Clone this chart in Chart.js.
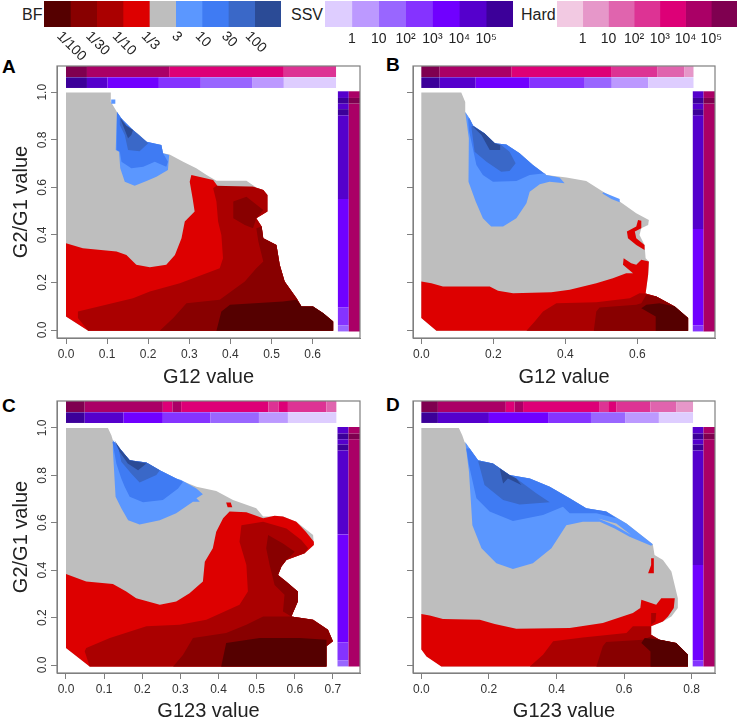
<!DOCTYPE html>
<html>
<head>
<meta charset="utf-8">
<style>
html, body { margin: 0; background: #fff; width: 747px; height: 720px; overflow: hidden; font-family: "Liberation Sans", Arial, sans-serif; }
canvas { position: absolute; }
.txt { position: absolute; color: #222; font-size: 16px; line-height: 18px; }
.tag { position: absolute; color: #000; font-size: 19px; font-weight: bold; line-height: 20px; }
</style>
</head>
<body>
<div class="txt" style="left:22px;top:6px">BF</div>
<div class="txt" style="left:291px;top:6px">SSV</div>
<div class="txt" style="left:521px;top:6px">Hard</div>
<div class="tag" style="left:2px;top:57px">A</div>
<div class="tag" style="left:386px;top:55px">B</div>
<div class="tag" style="left:2px;top:396px">C</div>
<div class="tag" style="left:386px;top:395px">D</div>
<canvas id="panelA" width="370" height="337" style="left:0;top:52px"></canvas>
<canvas id="panelB" width="377" height="337" style="left:370px;top:52px"></canvas>
<canvas id="panelC" width="370" height="338" style="left:0;top:385px"></canvas>
<canvas id="panelD" width="377" height="338" style="left:370px;top:385px"></canvas>
<canvas id="legendBF" width="237" height="70" style="left:44px;top:0"></canvas>
<canvas id="legendSSV" width="188" height="50" style="left:325px;top:0"></canvas>
<canvas id="legendHard" width="180" height="50" style="left:557px;top:0"></canvas>

<script src="https://cdn.jsdelivr.net/npm/chart.js"></script>
<script>
  // legend classes
  const bfColors = ["#550000", "#880000", "#aa0000", "#dd0000", "#bebebe", "#5b97ff", "#3f7bf3", "#3a68c8", "#2b4b96"];
  const bfLabels = ["1/100", "1/30", "1/10", "1/3", "3", "10", "30", "100"];
  const ssvColors = ["#decdff", "#bc99ff", "#9966ff", "#8533ff", "#7000ff", "#5500cc", "#3c0099"];
  const ssvLabels = ["1", "10", "10²", "10³", "10⁴", "10⁵"];
  const hardColors = ["#f2c9e2", "#e697c9", "#e064ae", "#dd3394", "#dd0077", "#aa0066", "#7f0050"];
  const hardLabels = ["1", "10", "10²", "10³", "10⁴", "10⁵"];
  const bf = { c100: 0, c30: 1, c10: 2, c3: 3, n3: 4, p10: 5, p30: 6, p100: 7, pMax: 8 };

  const yTicks = [0, 0.2, 0.4, 0.6, 0.8, 1];

  // panel A regions, [G12, G2/G1]
  const aLow = [[.573,.099],[.601,.099],[.626,.071],[.650,.036],[.650,-.003]];
  const aSide = [[.476,.435],[.480,.386],[.512,.358],[.520,.274],[.532,.204],[.561,.134], ...aLow];
  const aOutline = [[0,.999],[.109,.999],[.109,.96],[.124,.917],[.135,.890],[.147,.859],[.163,.841],[.179,.820],[.196,.792],[.220,.780],[.232,.778],[.236,.743],[.252,.738],[.285,.708],[.317,.680],[.342,.652],[.366,.628],[.439,.628],[.463,.599],[.480,.589],[.490,.568],[.490,.498],[.463,.470], ...aSide,[.054,-.003],[0,.057]];
  const aRed = [[0,.365],[.041,.344],[.123,.330],[.147,.316],[.171,.274],[.204,.264],[.244,.274],[.265,.316],[.281,.386],[.289,.456],[.313,.498],[.308,.554],[.301,.624],[.305,.652],[.358,.631],[.370,.603],[.455,.603],[.480,.589],[.490,.568],[.490,.498],[.463,.470], ...aSide,[.054,-.003],[0,.057]];
  const a10th = [[.029,.078],[.163,.134],[.204,.162],[.277,.197],[.374,.260],[.382,.302],[.378,.400],[.370,.456],[.366,.540],[.358,.596],[.366,.607],[.455,.603],[.480,.589],[.490,.568],[.490,.498],[.463,.470], ...aSide,[.054,-.003],[.029,.050]];
  const a30th = [[.228,-.003],[.261,.050],[.293,.113],[.374,.127],[.435,.204],[.463,.260],[.480,.288],[.468,.372],[.463,.428], ...aSide];
  const a30thBlob = [[.407,.540],[.439,.561],[.480,.505],[.463,.470],[.455,.428],[.435,.442],[.407,.470]];
  const a100th = [[.366,-.003],[.378,.078],[.399,.106],[.528,.120],[.561,.127], ...aLow];
  const aBlue10 = [[.124,.917],[.121,.757],[.129,.750],[.132,.680],[.143,.624],[.167,.607],[.196,.627],[.220,.645],[.248,.673],[.251,.736],[.236,.743],[.232,.778],[.196,.792],[.163,.841],[.135,.890]];
  const aBlue10Dot = [[.110,.970],[.120,.970],[.120,.952],[.110,.952]];
  const aBlue30 = [[.124,.917],[.123,.757],[.131,.750],[.135,.708],[.159,.680],[.188,.687],[.216,.708],[.244,.687],[.248,.708],[.236,.743],[.232,.778],[.196,.792],[.163,.841],[.135,.890]];
  const aBlue100 = [[.131,.890],[.131,.862],[.143,.820],[.151,.757],[.179,.752],[.200,.785],[.196,.792],[.163,.841],[.147,.859],[.135,.890]];
  const aBlueMax = [[.132,.890],[.140,.855],[.151,.806],[.159,.820],[.163,.841],[.147,.859]];

  // panel B regions
  const bLow = [[.653,.141],[.704,.099],[.741,.050],[.741,-.003]];
  const bOutline = [[0,.999],[.111,.999],[.122,.959],[.122,.917],[.134,.890],[.144,.859],[.176,.827],[.204,.785],[.236,.780],[.273,.743],[.310,.694],[.347,.652],[.403,.641],[.458,.627],[.505,.582],[.551,.540],[.597,.491],[.632,.463],[.630,.442],[.611,.428],[.606,.400],[.620,.358],[.623,.302],[.632,.288],[.630,.232],[.623,.154], ...bLow,[.042,-.003],[0,.050]];
  const bRed = [[0,.204],[.028,.197],[.060,.183],[.190,.183],[.213,.165],[.255,.155],[.361,.159],[.412,.169],[.486,.197],[.532,.218],[.569,.239],[.588,.239],[.560,.274],[.562,.302],[.583,.281],[.597,.274],[.611,.295],[.632,.288],[.630,.232],[.623,.154], ...bLow,[.042,-.003],[0,.050]];
  const bRedBlob = [[.602,.463],[.611,.460],[.611,.428],[.593,.414],[.597,.386],[.620,.358],[.620,.337],[.597,.358],[.574,.386],[.571,.414],[.597,.435]];
  const b10th = [[.292,-.003],[.315,.036],[.338,.078],[.375,.113],[.486,.117],[.579,.134],[.606,.155],[.623,.154], ...bLow];
  const b30th = [[.479,-.003],[.486,.078],[.495,.095],[.597,.106],[.611,.113],[.625,.148], ...bLow];
  const b100th = [[.651,-.003],[.651,.057],[.611,.092],[.625,.106],[.662,.113],[.704,.099],[.741,.050],[.741,-.003]];
  const bEdge = [[.347,.652],[.310,.694],[.273,.743],[.236,.780],[.204,.785],[.176,.827],[.144,.859],[.134,.890]];
  const bBlue10 = [[.122,.917],[.132,.806],[.131,.624],[.151,.540],[.171,.470],[.194,.435],[.227,.435],[.264,.470],[.292,.533],[.301,.582],[.329,.613],[.356,.624],[.398,.617],[.384,.641], ...bEdge];
  const bBlue10Strip = [[.505,.579],[.551,.551],[.551,.537],[.528,.551],[.503,.574]];
  const bBlue30 = [[.130,.890],[.132,.841],[.153,.694],[.171,.652],[.199,.624],[.264,.627],[.301,.652],[.343,.659], ...bEdge];
  const bBlue100 = [[.139,.855],[.148,.750],[.181,.708],[.222,.666],[.245,.669],[.262,.701],[.245,.750],[.222,.778],[.204,.785],[.176,.827],[.144,.859]];
  const bBlueMax = [[.141,.859],[.167,.820],[.190,.757],[.219,.757],[.219,.778],[.204,.785],[.176,.827]];

  // panel C regions, [G123, G2/G1]
  const cLow = [[.608,.310],[.608,.268],[.591,.205],[.648,.191],[.687,.149],[.700,.100],[.683,.079],[.683,-.006]];
  const cTail = [[.626,.471],[.578,.443],[.565,.415],[.556,.380], ...cLow];
  const cOutline = [[0,1],[.110,1],[.119,.969],[.123,.948],[.145,.906],[.167,.864],[.211,.854],[.246,.822],[.289,.787],[.342,.752],[.394,.734],[.438,.696],[.499,.661],[.517,.626],[.569,.626],[.604,.604],[.648,.548],[.650,.506], ...cTail,[.062,-.006],[0,.072]];
  const cRed = [[0,.384],[.053,.352],[.123,.342],[.158,.310],[.184,.282],[.246,.254],[.289,.268],[.324,.303],[.359,.352],[.364,.436],[.385,.492],[.394,.562],[.412,.619],[.429,.647],[.473,.644],[.517,.619],[.547,.630],[.569,.626],[.604,.604],[.629,.562],[.650,.520],[.650,.506], ...cTail,[.062,-.006],[0,.072]];
  const cRedDot = [[.420,.685],[.432,.685],[.436,.665],[.424,.665]];
  const c10th = [[.053,.072],[.115,.114],[.211,.163],[.298,.170],[.368,.191],[.455,.254],[.477,.310],[.473,.422],[.455,.520],[.460,.590],[.517,.604],[.578,.576],[.617,.527],[.635,.492], ...cTail,[.062,-.006],[.049,.058]];
  const c30th = [[.281,-.006],[.307,.043],[.333,.114],[.420,.135],[.473,.170],[.517,.205],[.591,.205],[.648,.191],[.687,.149],[.700,.100],[.683,.079],[.683,-.006]];
  const c30thBlob = [[.530,.548],[.569,.513],[.600,.478],[.578,.443],[.565,.415],[.556,.380],[.578,.352],[.608,.310],[.608,.268],[.591,.205],[.569,.226],[.573,.296],[.547,.338],[.534,.422],[.525,.492]];
  const c100th = [[.407,-.006],[.420,.093],[.508,.114],[.613,.114],[.683,.107],[.683,-.006]];
  const cEdge = [[.289,.787],[.246,.822],[.211,.854],[.167,.864],[.145,.906]];
  const cBlue10 = [[.123,.906],[.130,.710],[.145,.661],[.163,.611],[.193,.593],[.246,.611],[.289,.640],[.333,.689],[.351,.689],[.342,.703],[.359,.720],[.342,.745],[.302,.780], ...cEdge,[.123,.948]];
  const cBlue30 = [[.122,.941],[.132,.850],[.145,.787],[.154,.752],[.167,.710],[.202,.686],[.254,.696],[.294,.745],[.307,.773], ...cEdge,[.127,.941]];
  const cBlue100 = [[.139,.906],[.145,.857],[.171,.808],[.193,.770],[.237,.801],[.246,.822],[.211,.854],[.167,.864],[.145,.906]];
  const cBlueMax = [[.127,.948],[.141,.899],[.162,.850],[.189,.822],[.211,.850],[.167,.864],[.145,.906]];

  // panel D regions
  const dLow = [[.680,.163],[.680,.128],[.705,.107],[.754,.093],[.789,.043],[.789,-.006]];
  const dOutline = [[0,1],[.111,1],[.121,.969],[.128,.941],[.143,.913],[.168,.864],[.212,.850],[.261,.801],[.321,.787],[.380,.752],[.439,.703],[.488,.661],[.547,.647],[.607,.597],[.685,.509],[.690,.464],[.715,.443],[.740,.394],[.759,.282],[.759,.240],[.740,.205],[.715,.184], ...dLow,[.059,-.006],[0,.065]];
  const dRed = [[0,.215],[.025,.209],[.064,.194],[.173,.191],[.217,.173],[.281,.153],[.439,.156],[.537,.177],[.626,.219],[.648,.240],[.651,.275],[.695,.254],[.710,.282],[.750,.282],[.747,.240],[.730,.205],[.715,.184], ...dLow,[.059,-.006],[.015,.036],[0,.065]];
  const dRedBlob = [[.680,.450],[.688,.450],[.688,.387],[.671,.387],[.680,.422]];
  const d10th = [[.321,-.006],[.360,.043],[.390,.100],[.478,.116],[.607,.135],[.626,.163], ...dLow];
  const d10thSpot = [[.680,.219],[.695,.219],[.693,.184],[.680,.170]];
  const d30th = [[.518,-.006],[.537,.079],[.547,.097],[.656,.107],[.680,.121],[.705,.107],[.754,.093],[.789,.043],[.789,-.006]];
  const d100th = [[.678,-.006],[.678,.057],[.651,.093],[.661,.114],[.705,.107],[.754,.093],[.789,.043],[.789,-.006]];
  const dEdge = [[.547,.647],[.488,.661],[.439,.703],[.380,.752],[.321,.787],[.261,.801],[.212,.850],[.168,.864],[.143,.913]];
  const dBlue10 = [[.130,.941],[.141,.815],[.151,.590],[.178,.492],[.222,.429],[.271,.405],[.330,.429],[.385,.492],[.429,.590],[.478,.604],[.528,.604],[.572,.576],[.616,.541],[.680,.503],[.685,.509],[.607,.597], ...dEdge];
  const dSliver = [[.523,.618],[.577,.597],[.621,.548],[.572,.590]];
  const dBlue30 = [[.133,.913],[.141,.843],[.163,.703],[.202,.647],[.271,.607],[.360,.633],[.419,.668],[.439,.640],[.518,.640],[.577,.619], ...dEdge];
  const dBlue100 = [[.168,.861],[.187,.759],[.242,.696],[.291,.677],[.380,.686],[.340,.724],[.281,.787],[.261,.801],[.212,.850]];
  const dBlueMax = [[.232,.829],[.242,.766],[.256,.787],[.296,.759],[.281,.787],[.261,.801]];

  // marginal strips: breaks along the axis and the class of each stretch
  const aTopHardBreaks = [0, .051, .251, .530, .657];
  const aTopHardClass = [6, 5, 4, 3];
  const aTopSsvBreaks = [0, .051, .101, .226, .328, .454, .530, .657];
  const aTopSsvClass = [6, 5, 4, 3, 2, 1, 0];
  const aSideSsvBreaks = [1.004, .976, .952, .929, .903, .551, .095, .020, -.006];
  const aSideSsvClass = [5, 6, 5, 6, 5, 4, 3, 2];
  const bTopHardBreaks = [0, .051, .251, .529, .655, .731, .756];
  const bTopHardClass = [6, 5, 4, 3, 2, 1];
  const bTopSsvBreaks = [0, .051, .151, .301, .454, .529, .630, .756];
  const bTopSsvClass = [6, 5, 4, 3, 2, 1, 0];
  const bSideSsvBreaks = [1.004, .976, .952, .929, .903, .425, .020, -.006];
  const bSideSsvClass = [5, 6, 5, 6, 5, 4, 3];
  const cTopHardBreaks = [0, .049, .254, .279, .302, .531, .558, .582, .683, .709];
  const cTopHardClass = [6, 5, 4, 5, 4, 3, 4, 3, 2];
  const cTopSsvBreaks = [0, .049, .151, .254, .379, .506, .582, .709];
  const cTopSsvClass = [6, 5, 4, 3, 2, 1, 0];
  const cSideSsvBreaks = [1.004, .976, .952, .930, .905, .551, .095, .020, -.006];
  const cSideSsvClass = [5, 6, 5, 6, 5, 4, 3, 2];
  const dTopHardBreaks = [0, .049, .250, .276, .301, .528, .553, .578, .678, .754, .804];
  const dTopHardClass = [6, 5, 4, 5, 4, 3, 4, 3, 2, 1];
  const dTopSsvBreaks = [0, .049, .200, .377, .502, .603, .703, .804];
  const dTopSsvClass = [6, 5, 4, 3, 2, 1, 0];
  const dSideSsvBreaks = [1.004, .976, .952, .930, .905, .422, .020, -.006];
  const dSideSsvClass = [5, 6, 5, 6, 5, 4, 3];
  const sideHardBreaks = [1.004, .976, .952, -.006];
  const sideHardClass = [5, 6, 5];

  const labelFont = '"Liberation Sans", Arial, sans-serif';
  const greyLine = "#7f7f7f";

  function polygon(points, color) {
    return {
      data: points, showLine: true, fill: "shape", tension: 0,
      backgroundColor: color, borderWidth: 0, borderColor: color,
      pointRadius: 0, pointHoverRadius: 0
    };
  }

  function box(x0, x1, y0, y1, color) {
    return polygon([[x0, y0], [x1, y0], [x1, y1], [x0, y1]], color);
  }

  const frame = {
    id: "frame",
    afterDraw(chart) {
      const a = chart.chartArea, ctx = chart.ctx;
      ctx.save();
      ctx.strokeStyle = greyLine;
      ctx.lineWidth = 1.2;
      ctx.strokeRect(a.left, a.top, a.right - a.left, a.bottom - a.top);
      ctx.restore();
    }
  };

  function drawPanel(id, p) {
    const sets = p.regions.map(([cls, pts]) => polygon(pts, bfColors[cls]));
    p.topHard.classes.forEach((c, i) => sets.push(box(p.topHard.breaks[i], p.topHard.breaks[i + 1], p.hardBand[0], p.hardBand[1], hardColors[c])));
    p.topSsv.classes.forEach((c, i) => sets.push(box(p.topSsv.breaks[i], p.topSsv.breaks[i + 1], p.ssvBand[0], p.ssvBand[1], ssvColors[c])));
    p.sideSsv.classes.forEach((c, i) => sets.push(box(p.sideX[0], p.sideX[1], p.sideSsv.breaks[i + 1], p.sideSsv.breaks[i], ssvColors[c])));
    sideHardClass.forEach((c, i) => sets.push(box(p.sideX[1], p.sideX[2], sideHardBreaks[i + 1], sideHardBreaks[i], hardColors[c])));
    sets.forEach((s, i) => { s.order = -i; });

    new Chart(document.getElementById(id), {
      type: "scatter",
      data: { datasets: sets },
      plugins: [frame],
      options: {
        responsive: false,
        animation: false,
        layout: { padding: p.padding },
        plugins: { legend: { display: false }, tooltip: { enabled: false } },
        scales: {
          x: {
            type: "linear", min: p.xRange[0], max: p.xRange[1],
            afterBuildTicks: s => { s.ticks = p.xTicks.map(v => ({ value: v })); },
            afterFit: s => { s.height = p.xAxisHeight; },
            grid: { drawOnChartArea: false, tickLength: 6, tickColor: greyLine, tickWidth: 1 },
            border: { color: greyLine },
            ticks: {
              autoSkip: false, maxRotation: 0, padding: 3, color: "#333",
              font: { family: labelFont, size: 12 },
              callback: v => v.toFixed(1)
            },
            title: { display: true, text: p.xTitle, color: "#222", padding: 0, font: { family: labelFont, size: 20 } }
          },
          y: {
            type: "linear", min: p.yRange[0], max: p.yRange[1],
            afterBuildTicks: s => { s.ticks = yTicks.map(v => ({ value: v })); },
            afterFit: s => { s.width = p.yAxisWidth; },
            grid: { drawOnChartArea: false, tickLength: 6, tickColor: greyLine, tickWidth: 1 },
            border: { color: greyLine },
            ticks: {
              autoSkip: false, minRotation: 90, maxRotation: 90, crossAlign: "center", padding: 0, color: "#333",
              font: { family: labelFont, size: 12 },
              callback: v => p.yTitle ? v.toFixed(1) : ""
            },
            title: { display: !!p.yTitle, text: p.yTitle, color: "#222", padding: { top: 9, bottom: 0 }, font: { family: labelFont, size: 20 } }
          }
        }
      }
    });
  }

  drawPanel("panelA", {
    regions: [[bf.n3, aOutline], [bf.c3, aRed], [bf.c10, a10th], [bf.c30, a30th], [bf.c30, a30thBlob], [bf.c100, a100th],
      [bf.p10, aBlue10], [bf.p10, aBlue10Dot], [bf.p30, aBlue30], [bf.p100, aBlue100], [bf.pMax, aBlueMax]],
    topHard: { breaks: aTopHardBreaks, classes: aTopHardClass },
    topSsv: { breaks: aTopSsvBreaks, classes: aTopSsvClass },
    sideSsv: { breaks: aSideSsvBreaks, classes: aSideSsvClass },
    hardBand: [1.064, 1.11], ssvBand: [1.018, 1.063], sideX: [.6615, .688, .72],
    xRange: [-.0219, .7153], yRange: [-.0336, 1.1104],
    xTicks: [0, .1, .2, .3, .4, .5, .6], xTitle: "G12 value", yTitle: "G2/G1 value",
    padding: { top: 14, right: 10 }, yAxisWidth: 57, xAxisHeight: 51
  });

  drawPanel("panelB", {
    regions: [[bf.n3, bOutline], [bf.c3, bRed], [bf.c3, bRedBlob], [bf.c10, b10th], [bf.c30, b30th], [bf.c100, b100th],
      [bf.p10, bBlue10], [bf.p10, bBlue10Strip], [bf.p30, bBlue30], [bf.p100, bBlue100], [bf.pMax, bBlueMax]],
    topHard: { breaks: bTopHardBreaks, classes: bTopHardClass },
    topSsv: { breaks: bTopSsvBreaks, classes: bTopSsvClass },
    sideSsv: { breaks: bSideSsvBreaks, classes: bSideSsvClass },
    hardBand: [1.064, 1.11], ssvBand: [1.018, 1.063], sideX: [.754, .784, .82],
    xRange: [-.0231, .8157], yRange: [-.0336, 1.1104],
    xTicks: [0, .2, .4, .6], xTitle: "G12 value", yTitle: "",
    padding: { top: 14, right: 32 }, yAxisWidth: 43, xAxisHeight: 51
  });

  drawPanel("panelC", {
    regions: [[bf.n3, cOutline], [bf.c3, cRed], [bf.c3, cRedDot], [bf.c10, c10th], [bf.c30, c30th], [bf.c30, c30thBlob], [bf.c100, c100th],
      [bf.p10, cBlue10], [bf.p30, cBlue30], [bf.p100, cBlue100], [bf.pMax, cBlueMax]],
    topHard: { breaks: cTopHardBreaks, classes: cTopHardClass },
    topSsv: { breaks: cTopSsvBreaks, classes: cTopSsvClass },
    sideSsv: { breaks: cSideSsvBreaks, classes: cSideSsvClass },
    hardBand: [1.067, 1.114], ssvBand: [1.021, 1.066], sideX: [.712, .741, .775],
    xRange: [-.0236, .771], yRange: [-.0337, 1.1136],
    xTicks: [0, .1, .2, .3, .4, .5, .6, .7], xTitle: "G123 value", yTitle: "G2/G1 value",
    padding: { top: 16, right: 10 }, yAxisWidth: 57, xAxisHeight: 50
  });

  drawPanel("panelD", {
    regions: [[bf.n3, dOutline], [bf.c3, dRed], [bf.c3, dRedBlob], [bf.c10, d10th], [bf.c10, d10thSpot], [bf.c30, d30th], [bf.c100, d100th],
      [bf.p10, dBlue10], [bf.n3, dSliver], [bf.p30, dBlue30], [bf.p100, dBlue100], [bf.pMax, dBlueMax]],
    topHard: { breaks: dTopHardBreaks, classes: dTopHardClass },
    topSsv: { breaks: dTopSsvBreaks, classes: dTopSsvClass },
    sideSsv: { breaks: dSideSsvBreaks, classes: dSideSsvClass },
    hardBand: [1.067, 1.114], ssvBand: [1.021, 1.066], sideX: [.803, .835, .875],
    xRange: [-.0247, .869], yRange: [-.0337, 1.1136],
    xTicks: [0, .2, .4, .6, .8], xTitle: "G123 value", yTitle: "",
    padding: { top: 16, right: 32 }, yAxisWidth: 43, xAxisHeight: 50
  });

  // rotated BF labels: the tick layer can only right-align rotated text
  const slantedLabels = {
    id: "slantedLabels",
    afterDraw(chart) {
      const ctx = chart.ctx, scale = chart.scales.x;
      ctx.save();
      ctx.font = "14px " + labelFont;
      ctx.fillStyle = "#222";
      ctx.textAlign = "center";
      ctx.textBaseline = "middle";
      bfLabels.forEach((label, i) => {
        const half = ctx.measureText(label).width / 2;
        ctx.save();
        ctx.translate(scale.getPixelForValue(i + 1) + 1, 30 + half * Math.sin(Math.PI / 4) + 4);
        ctx.rotate(Math.PI / 4);
        ctx.fillText(label, 0, 0);
        ctx.restore();
      });
      ctx.restore();
    }
  };

  function drawLegend(id, colors, labels, slanted) {
    new Chart(document.getElementById(id), {
      type: "bar",
      data: {
        labels: [""],
        datasets: colors.map(c => ({ data: [1], backgroundColor: c, barPercentage: 1, categoryPercentage: 1 }))
      },
      plugins: slanted ? [slantedLabels] : [],
      options: {
        indexAxis: "y",
        responsive: false,
        animation: false,
        layout: { padding: { top: 1, left: 0, right: 0 } },
        plugins: { legend: { display: false }, tooltip: { enabled: false } },
        scales: {
          x: {
            stacked: true, min: 0, max: colors.length,
            afterBuildTicks: s => { s.ticks = labels.map((_, i) => ({ value: i + 1 })); },
            afterFit: s => { s.height = s.chart.height - 27; s.paddingLeft = 0; s.paddingRight = 0; },
            grid: { display: false, drawTicks: false },
            border: { display: false },
            ticks: {
              display: !slanted, autoSkip: false, maxRotation: 0, padding: 4, color: "#222",
              font: { family: labelFont, size: 14 },
              callback: v => labels[v - 1]
            }
          },
          y: { stacked: true, display: false }
        }
      }
    });
  }

  drawLegend("legendBF", bfColors, bfLabels, true);
  drawLegend("legendSSV", ssvColors, ssvLabels, false);
  drawLegend("legendHard", hardColors, hardLabels, false);
</script>
</body>
</html>
